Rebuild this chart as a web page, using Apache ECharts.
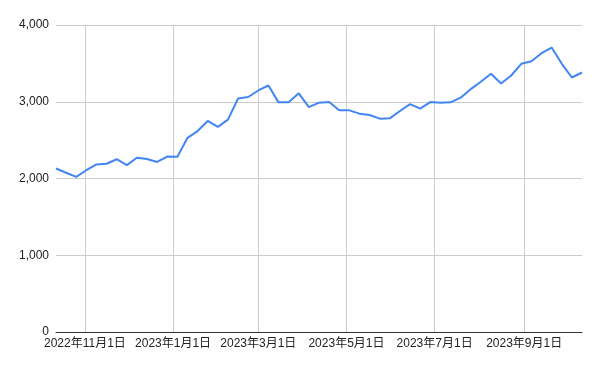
<!DOCTYPE html>
<html>
<head>
<meta charset="utf-8">
<script src="https://cdn.jsdelivr.net/npm/echarts@6/dist/echarts.min.js"></script>
<style>html,body{margin:0;padding:0;background:#fff}#c{width:600px;height:371px}</style>
</head>
<body>
<div id="c"></div>
<script>
// Weekly dates starting 2022-10-12
const startDate = '2022-10-12';
const values = [
  2130, 2075, 2021, 2108, 2184, 2192, 2251, 2175, 2270, 2253,
  2216, 2286, 2282, 2530, 2618, 2750, 2673, 2767, 3042, 3062,
  3147, 3212, 2992, 2992, 3110, 2931, 2988, 2998, 2888, 2888,
  2845, 2827, 2780, 2784, 2879, 2970, 2910, 2996, 2988, 2992,
  3053, 3164, 3260, 3364, 3238, 3342, 3494, 3528, 3632, 3706,
  3494, 3316, 3381
];
const xTickDates = ['2022-11-01', '2023-01-01', '2023-03-01', '2023-05-01', '2023-07-01', '2023-09-01'];
const yTicks = [0, 1000, 2000, 3000, 4000];

function ts(s) { const p = s.split('-').map(Number); return Date.UTC(p[0], p[1] - 1, p[2]); }
const DAY = 86400000;
const t0 = ts(startDate);
const seriesData = values.map((v, i) => [t0 + i * 7 * DAY, v]);
const tickValues = xTickDates.map(ts);

const font = '"Liberation Sans", Arial, "Noto Sans CJK JP", sans-serif';
const chart = echarts.init(document.getElementById('c'), null, { renderer: 'canvas' });
chart.setOption({
  animation: false,
  backgroundColor: '#fff',
  grid: { left: 56, right: 18, top: 25, bottom: 39, containLabel: false },
  xAxis: {
    type: 'value',
    min: seriesData[0][0],
    max: seriesData[seriesData.length - 1][0],
    axisLine: { show: true, lineStyle: { color: '#333', width: 1 } },
    axisTick: { show: false, customValues: tickValues },
    axisLabel: {
      customValues: tickValues,
      color: '#222', fontSize: 12, fontFamily: font, margin: 6,
      formatter: function (v) {
        const d = new Date(v);
        return d.getUTCFullYear() + '年' + (d.getUTCMonth() + 1) + '月' + d.getUTCDate() + '日';
      }
    },
    splitLine: { show: true, lineStyle: { color: '#cccccc', width: 1 } }
  },
  yAxis: {
    type: 'value',
    min: yTicks[0], max: yTicks[yTicks.length - 1], interval: 1000,
    axisLine: { show: false },
    axisTick: { show: false },
    axisLabel: {
      color: '#222', fontSize: 12, fontFamily: font, margin: 7,
      formatter: function (v) { return v.toLocaleString('en-US'); }
    },
    splitLine: { show: true, lineStyle: { color: '#cccccc', width: 1 } }
  },
  series: [{
    type: 'line',
    data: seriesData,
    showSymbol: false,
    symbol: 'none',
    lineStyle: { color: '#4285F4', width: 2 },
    itemStyle: { color: '#4285F4' }
  }]
});
</script>
</body>
</html>
